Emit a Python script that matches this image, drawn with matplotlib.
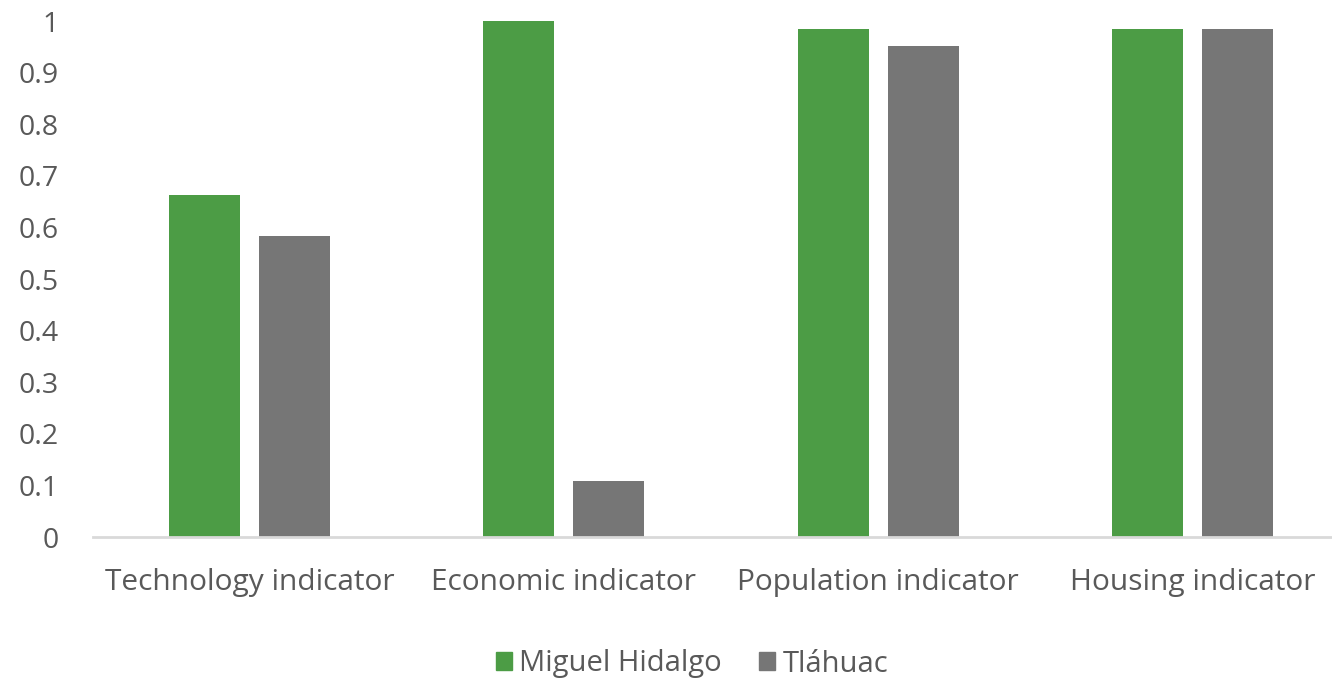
import matplotlib
import numpy as np

matplotlib.use("Agg")
import matplotlib.pyplot as plt
from matplotlib.patches import Patch

categories = ["Technology indicator", "Economic indicator", "Population indicator", "Housing indicator"]
miguel_hidalgo = [0.663, 1.0, 0.984, 0.984]
tlahuac = [0.583, 0.109, 0.952, 0.984]
series_names = ["Miguel Hidalgo", "Tláhuac"]
yticks = [0, 0.1, 0.2, 0.3, 0.4, 0.5, 0.6, 0.7, 0.8, 0.9, 1]
ytick_labels = ["0", "0.1", "0.2", "0.3", "0.4", "0.5", "0.6", "0.7", "0.8", "0.9", "1"]

green = "#4c9c45"
gray = "#767676"
text_color = "#595959"

plt.rcParams["font.family"] = ["Open Sans", "DejaVu Sans"]

fig = plt.figure(figsize=(13.32, 6.78), dpi=100)
# plot area runs a little past the right edge of the canvas
ax = fig.add_axes([92.5 / 1332, 1 - 537 / 678, 1257 / 1332, (537 - 21) / 678])

x = np.arange(len(categories))
width = 0.226
gap = 0.06
ax.bar(x - (width + gap) / 2, miguel_hidalgo, width, color=green, zorder=2)
ax.bar(x + (width + gap) / 2, tlahuac, width, color=gray, zorder=2)

ax.set_xlim(-0.5, len(categories) - 0.5)
ax.set_ylim(0, 1)
ax.set_xticks(x)
ax.set_xticklabels(categories, fontsize=21.5, color=text_color)
ax.set_yticks(yticks)
ax.set_yticklabels(ytick_labels, fontsize=20.5, color=text_color)
ax.tick_params(axis="both", length=0)
ax.tick_params(axis="x", pad=22)
ax.tick_params(axis="y", pad=24)

for side in ["top", "right", "left"]:
    ax.spines[side].set_visible(False)
ax.spines["bottom"].set_color("#d9d9d9")
ax.spines["bottom"].set_linewidth(2)
ax.spines["bottom"].set_zorder(3)

handles = [Patch(color=green), Patch(color=gray)]
fig.legend(
    handles,
    series_names,
    loc="center",
    bbox_to_anchor=(692 / 1332, 1 - 664 / 678),
    ncol=2,
    frameon=False,
    fontsize=21,
    labelcolor=text_color,
    handlelength=0.55,
    handleheight=0.55,
    handletextpad=0.25,
    columnspacing=1.3,
)

fig.savefig("out.png", dpi=100)
